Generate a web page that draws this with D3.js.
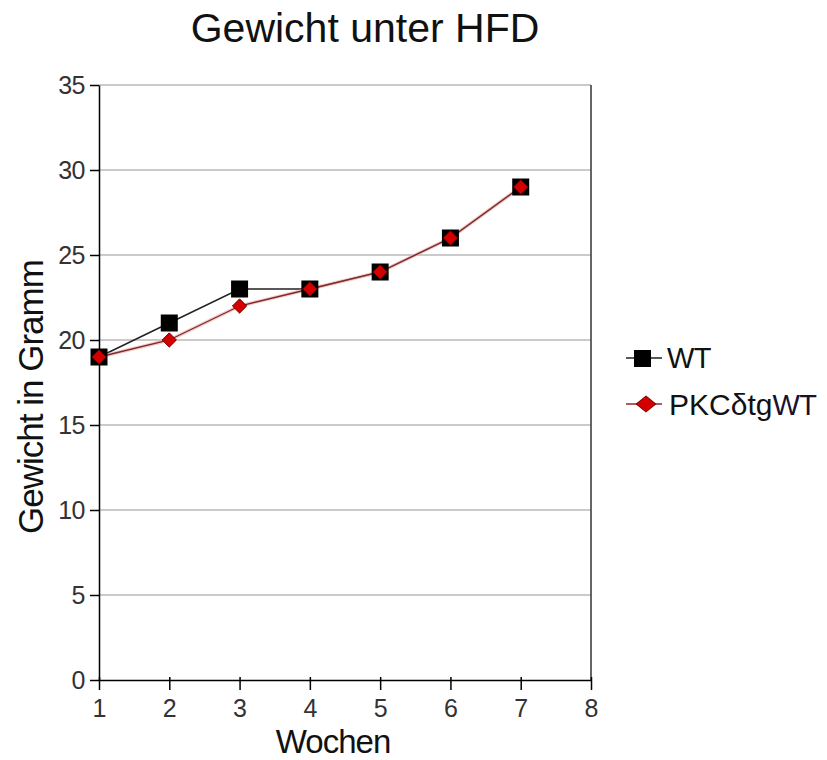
<!DOCTYPE html>
<html>
<head>
<meta charset="utf-8">
<script src="https://cdn.jsdelivr.net/npm/d3@7"></script>
<style>
  html, body { margin: 0; padding: 0; background: #fff; }
  svg { display: block; font-family: "Liberation Sans", Arial, sans-serif; }
</style>
</head>
<body>
<svg id="chart" width="827" height="760"></svg>
<script>
// Weekly body weight under high-fat diet
const weeks = [1, 2, 3, 4, 5, 6, 7];
const wtValues = [19, 21, 23, 23, 24, 26, 29];
const pkcValues = [19, 20, 22, 23, 24, 26, 29];
const xTicks = [1, 2, 3, 4, 5, 6, 7, 8];
const yTicks = [0, 5, 10, 15, 20, 25, 30, 35];

const svg = d3.select("#chart");
const plotLeft = 99, plotRight = 591, plotTop = 85, plotBottom = 680;
const fontFamily = "Liberation Sans, Arial, sans-serif";

const x = d3.scaleLinear().domain([1, 8]).range([plotLeft, plotRight]);
const y = d3.scaleLinear().domain([0, 35]).range([plotBottom, plotTop]);

// horizontal gridlines
svg.append("g")
  .selectAll("line")
  .data(yTicks.filter(d => d > 0))
  .join("line")
  .attr("x1", plotLeft).attr("x2", plotRight)
  .attr("y1", d => y(d)).attr("y2", d => y(d))
  .attr("stroke", "#b8b8b8").attr("stroke-width", 1.5);

// right border of the plot area
svg.append("line")
  .attr("x1", plotRight).attr("x2", plotRight)
  .attr("y1", plotTop).attr("y2", plotBottom)
  .attr("stroke", "#333").attr("stroke-width", 1.5);

// y axis
const yAxis = svg.append("g")
  .attr("transform", `translate(${plotLeft},0)`)
  .call(d3.axisLeft(y).tickValues(yTicks).tickFormat(d3.format("d"))
    .tickSize(9).tickPadding(5).tickSizeOuter(0));
yAxis.attr("font-size", 25).attr("font-family", fontFamily);
yAxis.select(".domain").attr("stroke", "#000").attr("stroke-width", 1.5);
yAxis.selectAll(".tick line").attr("stroke", "#000").attr("stroke-width", 1.5);
yAxis.selectAll("text").attr("fill", "#333").attr("letter-spacing", "-0.5");

// x axis
const xAxis = svg.append("g")
  .attr("transform", `translate(0,${plotBottom})`)
  .call(d3.axisBottom(x).tickValues(xTicks).tickFormat(d3.format("d"))
    .tickSize(10).tickPadding(9).tickSizeOuter(0));
xAxis.attr("font-size", 25).attr("font-family", fontFamily);
xAxis.select(".domain").attr("stroke", "#000").attr("stroke-width", 1.5);
xAxis.selectAll(".tick line").attr("stroke", "#000").attr("stroke-width", 1.5)
  .attr("y1", -3).attr("y2", 10);
xAxis.selectAll("text").attr("fill", "#333");

// series lines
const line = d3.line().x((d, i) => x(weeks[i])).y(d => y(d));
svg.append("path").datum(wtValues)
  .attr("d", line).attr("fill", "none")
  .attr("stroke", "#222").attr("stroke-width", 1.5);
svg.append("path").datum(pkcValues)
  .attr("d", line).attr("fill", "none")
  .attr("stroke", "#f2b0b0").attr("stroke-width", 3.5).attr("opacity", 0.7);
svg.append("path").datum(pkcValues)
  .attr("d", line).attr("fill", "none")
  .attr("stroke", "#7a2a2a").attr("stroke-width", 1.3);

// markers
const sq = 17;
svg.append("g").selectAll("rect")
  .data(wtValues)
  .join("rect")
  .attr("x", (d, i) => x(weeks[i]) - sq / 2)
  .attr("y", d => y(d) - sq / 2)
  .attr("width", sq).attr("height", sq)
  .attr("fill", "#000");

const diamond = d3.symbol().type(d3.symbolDiamond2).size(130);
svg.append("g").selectAll("path")
  .data(pkcValues)
  .join("path")
  .attr("d", diamond)
  .attr("transform", (d, i) => `translate(${x(weeks[i])},${y(d)})`)
  .attr("fill", "#d40000").attr("stroke", "#7a0000").attr("stroke-width", 1);

// title and axis titles
svg.append("text").attr("x", 365).attr("y", 42)
  .attr("text-anchor", "middle").attr("font-size", 41).attr("fill", "#111")
  .text("Gewicht unter HFD");
svg.append("text").attr("x", 333).attr("y", 753)
  .attr("text-anchor", "middle").attr("font-size", 33).attr("fill", "#111")
  .attr("letter-spacing", "-1")
  .text("Wochen");
svg.append("text")
  .attr("transform", "translate(43,397) rotate(-90)")
  .attr("text-anchor", "middle").attr("font-size", 35).attr("fill", "#111")
  .attr("letter-spacing", "-1")
  .text("Gewicht in Gramm");

// legend
const legend = svg.append("g");
legend.append("line").attr("x1", 626).attr("x2", 662).attr("y1", 358).attr("y2", 358)
  .attr("stroke", "#222").attr("stroke-width", 1.5);
legend.append("rect").attr("x", 634).attr("y", 350).attr("width", 17).attr("height", 17)
  .attr("fill", "#000");
legend.append("text").attr("x", 667).attr("y", 368)
  .attr("font-size", 29).attr("fill", "#111").attr("letter-spacing", "-0.5").text("WT");

legend.append("line").attr("x1", 626).attr("x2", 662).attr("y1", 404).attr("y2", 404)
  .attr("stroke", "#8a2a2a").attr("stroke-width", 1.5);
legend.append("path").attr("d", d3.symbol().type(d3.symbolDiamond2).size(200))
  .attr("transform", "translate(646,404) scale(1.1,0.9)")
  .attr("fill", "#d40000").attr("stroke", "#7a0000").attr("stroke-width", 1);
const lt = legend.append("text").attr("x", 669).attr("y", 415)
  .attr("font-size", 30).attr("fill", "#111");
lt.append("tspan").text("PKCδtg");
lt.append("tspan").attr("font-size", 29).attr("letter-spacing", "-0.5").attr("fill", "#1a1030").text("WT");
</script>
</body>
</html>
